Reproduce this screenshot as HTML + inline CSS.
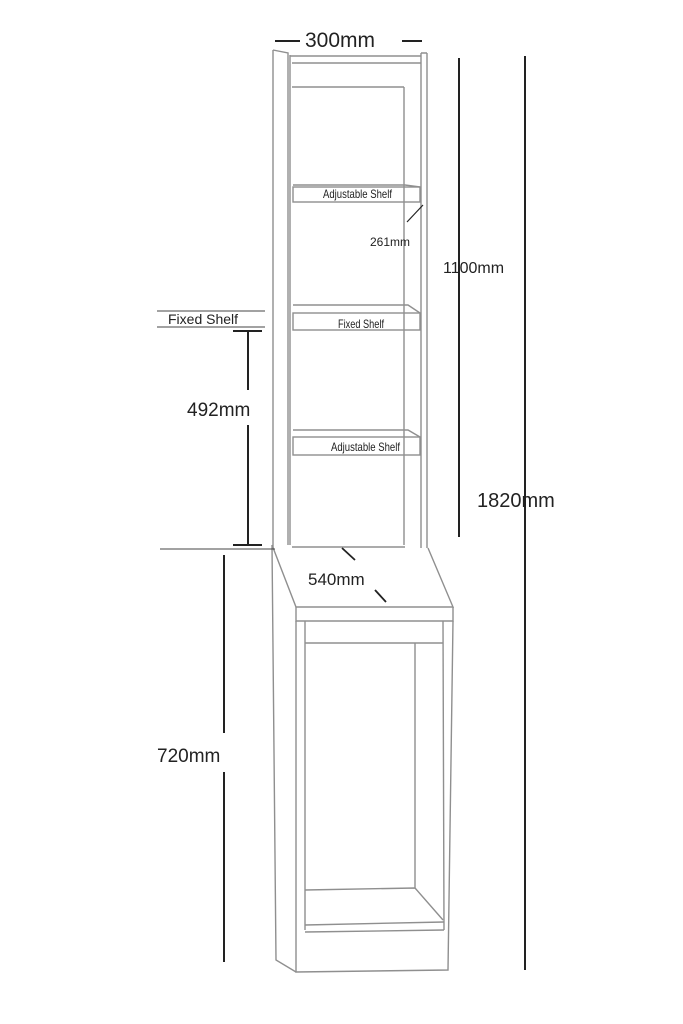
<!DOCTYPE html>
<html><head><meta charset="utf-8"><style>
html,body{margin:0;padding:0;background:#fff;width:683px;height:1024px;overflow:hidden}
svg{display:block}
text{font-family:"Liberation Sans",sans-serif;fill:#222}
</style></head><body>
<svg width="683" height="1024" viewBox="0 0 683 1024" xmlns="http://www.w3.org/2000/svg">
<g fill="none" stroke="#8f8f8f" stroke-width="1.4">
<path d="M273 50 L288 53 L288 545"/>
<path d="M273 50 L273 548"/>
<path d="M290 55 L290 545"/>
<path d="M290 56 L421 56"/>
<path d="M292 63 L421 63"/>
<path d="M292 87 L404 87"/>
<path d="M404 87 L404 545"/>
<path d="M421 53 L421 548 M427 53 L427 548 M421 53 L427 53"/>
<rect x="293" y="187" width="127" height="15"/>
<path d="M293 185 L405 185 L420 187"/>
<path d="M293 305 L408 305 L420 313"/>
<rect x="293" y="313" width="127" height="17"/>
<path d="M293 430 L408 430 L420 437"/>
<rect x="293" y="437" width="127" height="18"/>
<path d="M292 547 L405 547"/>
<path d="M272 545 L296 607 L453 607 L428 548"/>
<path d="M296 607 L296 621 L453 621 L453 607"/>
<path d="M272 545 L276 960 L296 972"/>
<path d="M296 621 L296 972 L448 970 L453 621"/>
<path d="M305 621 L305 930 M443 621 L444 930"/>
<path d="M305 643 L443 643"/>
<path d="M415 643 L415 888"/>
<path d="M305 890 L415 888 L443 920"/>
<path d="M305 925 L444 922 M305 932 L444 930"/>
</g>
<g stroke="#222" stroke-width="2" fill="none">
<path d="M275 41 L300 41 M402 41 L422 41"/>
<path d="M459 58 L459 537"/>
<path d="M525 56 L525 970"/>
<path d="M233 331 L262 331 M248 331 L248 390 M248 425 L248 545 M233 545 L262 545"/>
<path d="M224 555 L224 733 M224 772 L224 962"/>
<path d="M342 548 L355 560 M375 590 L386 602" stroke-width="1.8"/>
<path d="M407 222 L423 205" stroke-width="1.2"/>
</g>
<g stroke="#444" stroke-width="1" fill="none">
<path d="M157 311 L265 311 M157 327 L265 327 M160 549 L275 549"/>
</g>
<text x="305" y="47" font-size="21">300mm</text>
<text x="443" y="273" font-size="16">1100mm</text>
<text x="477" y="507" font-size="20">1820mm</text>
<text x="187" y="416" font-size="19">492mm</text>
<text x="157" y="762" font-size="19">720mm</text>
<text x="308" y="585" font-size="17">540mm</text>
<text x="370" y="246" font-size="12">261mm</text>
<text x="168" y="324" font-size="14">Fixed Shelf</text>
<text x="323" y="198" font-size="12" textLength="69" lengthAdjust="spacingAndGlyphs">Adjustable Shelf</text>
<text x="338" y="328" font-size="12" textLength="46" lengthAdjust="spacingAndGlyphs">Fixed Shelf</text>
<text x="331" y="451" font-size="12" textLength="69" lengthAdjust="spacingAndGlyphs">Adjustable Shelf</text>
</svg>
</body></html>
